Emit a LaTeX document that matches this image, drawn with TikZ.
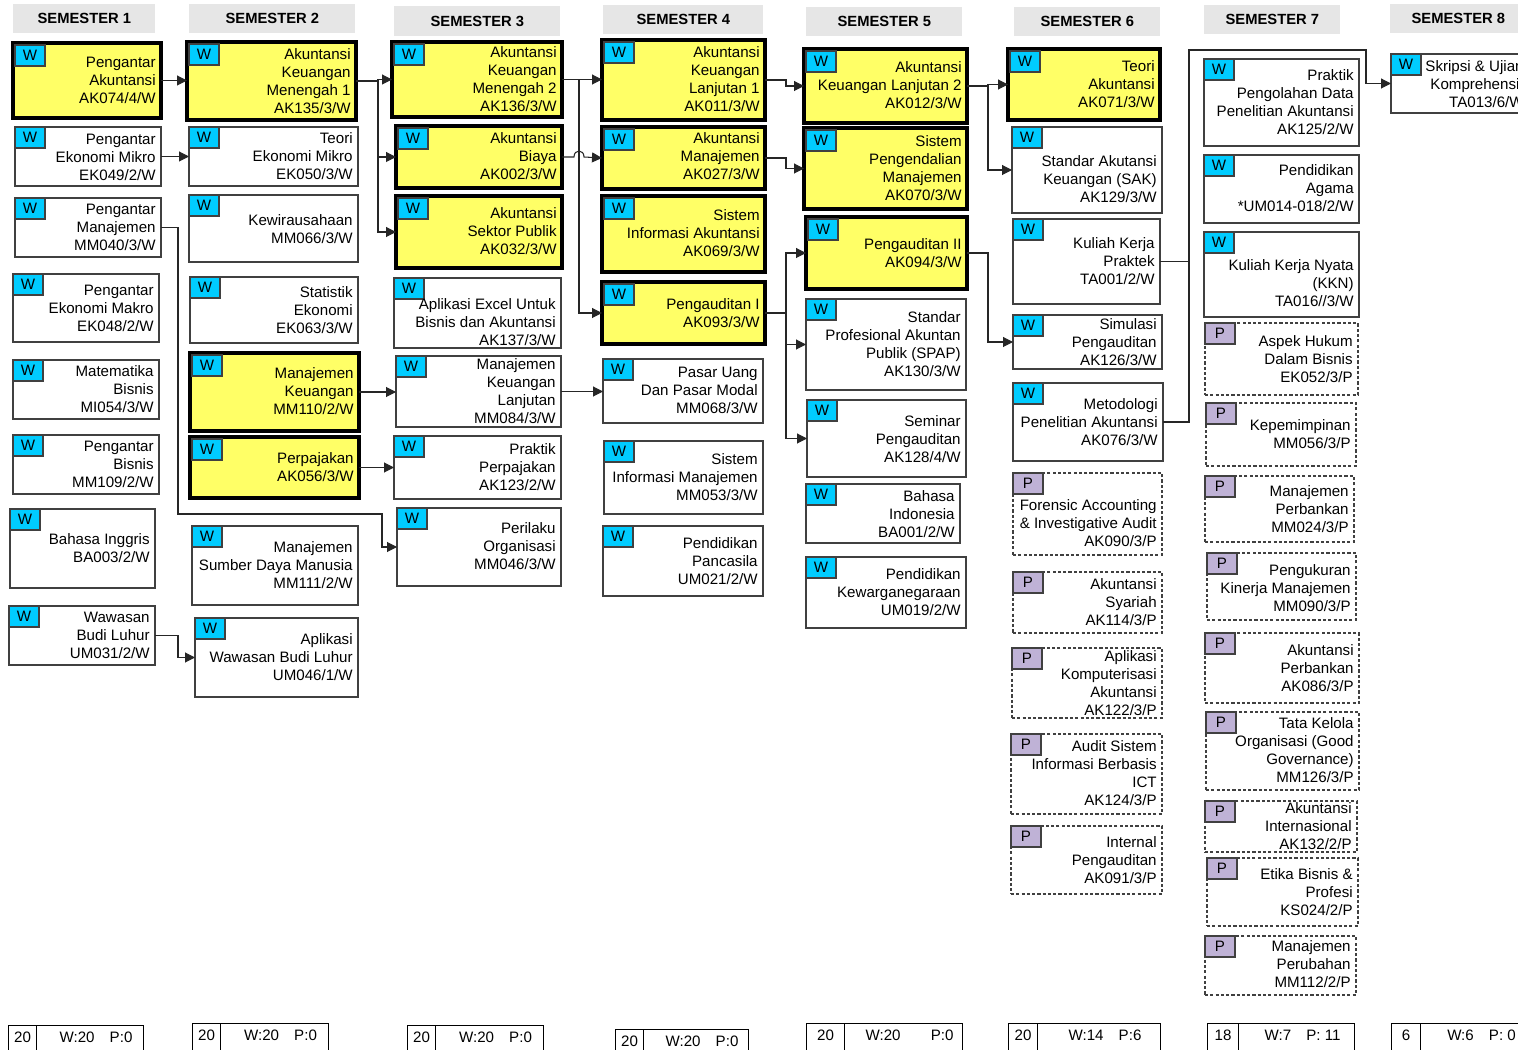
\documentclass[tikz,border=0pt]{standalone}
\usepackage{fontspec}
\setmainfont{Liberation Sans}
\usepackage{tikz}
\usetikzlibrary{arrows.meta}
\definecolor{kuning}{RGB}{255,255,102}
\definecolor{biru}{RGB}{0,204,255}
\definecolor{ungu}{RGB}{191,178,214}
\definecolor{abu}{RGB}{230,230,230}
\definecolor{garis}{RGB}{64,64,64}

\tikzset{
  kotak/.style={rectangle, draw=garis, line width=0.6pt, inner sep=0pt, outer sep=0pt, anchor=north west},
  wajib/.style={kotak},
  inti/.style={kotak, draw=black, line width=2.3pt, fill=kuning},
  pilih/.style={kotak, dash pattern=on 1.8pt off 1.2pt},
  tagW/.style={rectangle, draw=garis, line width=0.6pt, fill=biru, inner sep=0pt, outer sep=0pt, anchor=north west,
    minimum width=0.6cm, minimum height=0.42cm, font=\fontsize{8.6}{10}\selectfont, node contents=W},
  tagI/.style={tagW, xshift=0.04cm, yshift=-0.04cm},
  tagP/.style={tagW, fill=ungu, node contents=P},
  teks/.style={anchor=north east, align=right, inner sep=0pt, font=\fontsize{8.6}{10.2}\selectfont},
  judul/.style={rectangle, fill=abu, inner sep=0pt, anchor=north west, font=\bfseries\fontsize{8.4}{10}\selectfont},
  panah/.style={-{Triangle[length=0.2cm,width=0.2cm]}, draw=black!85, line width=0.6pt},
  sel/.style={rectangle, draw=black, line width=0.6pt, inner sep=0pt, anchor=north west, minimum height=0.8cm},
  angka/.style={inner sep=0pt, font=\fontsize{8.6}{10}\selectfont},
}

% name, box style, tag style, x1, y1, x2, y2, first text line, text
\newcommand{\matkul}[9]{%
  \node[#2, minimum width={(#6-#4)*0.02cm}, minimum height={(#7-#5)*0.02cm}] (#1) at (#4,#5) {};
  \node (#1t) at (#1.north west) [#3];
  \node[teks] (#1x) at (#6-5,#8-5.5) {#9};
}

\begin{document}
\begin{tikzpicture}[x=0.02cm, y=-0.02cm]
    \useasboundingbox (0,0) rectangle (1518,1050);

    % Semester headers
    \foreach \n/\xa/\ya/\xb/\yb in {1/13/4/155/33, 2/189/4/355/33, 3/394/6/560/36, 4/603/5/763/34,
        5/806/7/962/36, 6/1014/7/1160/36, 7/1204/5/1340/34, 8/1390/4/1526/33}
        \node[judul, minimum width={(\xb-\xa)*0.02cm}, minimum height={(\yb-\ya)*0.02cm}] (smt\n) at (\xa,\ya) {SEMESTER \n};

    % Semester 1
    \matkul{ak074}{inti}{tagI}{13}{43}{161}{118}{62}{Pengantar\\Akuntansi\\AK074/4/W}
    \matkul{ek049}{wajib}{tagW}{15}{127}{161}{186}{139}{Pengantar\\Ekonomi Mikro\\EK049/2/W}
    \matkul{mm040}{wajib}{tagW}{15}{198}{161}{257}{209}{Pengantar\\Manajemen\\MM040/3/W}
    \matkul{ek048}{wajib}{tagW}{13}{274}{159}{342}{290}{Pengantar\\Ekonomi Makro\\EK048/2/W}
    \matkul{mi054}{wajib}{tagW}{13}{360}{159}{419}{371}{Matematika\\Bisnis\\MI054/3/W}
    \matkul{mm109}{wajib}{tagW}{13}{435}{159}{494}{446}{Pengantar\\Bisnis\\MM109/2/W}
    \matkul{ba003}{wajib}{tagW}{10}{509}{155}{588}{539}{Bahasa Inggris\\BA003/2/W}
    \matkul{um031}{wajib}{tagW}{9}{606}{155}{665}{617}{Wawasan\\Budi Luhur\\UM031/2/W}

    % Semester 2
    \matkul{ak135}{inti}{tagI}{187}{42}{356}{120}{54}{Akuntansi\\Keuangan\\Menengah 1\\AK135/3/W}
    \matkul{ek050}{wajib}{tagW}{189}{127}{358}{186}{138}{Teori\\Ekonomi Mikro\\EK050/3/W}
    \matkul{mm066}{wajib}{tagW}{189}{195}{358}{262}{220}{Kewirausahaan\\MM066/3/W}
    \matkul{ek063}{wajib}{tagW}{190}{277}{358}{343}{292}{Statistik\\Ekonomi\\EK063/3/W}
    \matkul{mm110}{inti}{tagI}{190}{353}{359}{431}{373}{Manajemen\\Keuangan\\MM110/2/W}
    \matkul{ak056}{inti}{tagI}{190}{437}{359}{498}{458}{Perpajakan\\AK056/3/W}
    \matkul{mm111}{wajib}{tagW}{192}{526}{358}{605}{547}{Manajemen\\Sumber Daya Manusia\\MM111/2/W}
    \matkul{um046}{wajib}{tagW}{195}{618}{358}{697}{639}{Aplikasi\\Wawasan Budi Luhur\\UM046/1/W}

    % Semester 3
    \matkul{ak136}{inti}{tagI}{392}{42}{562}{117}{52}{Akuntansi\\Keuangan\\Menengah 2\\AK136/3/W}
    \matkul{ak002}{inti}{tagI}{396}{126}{562}{188}{138}{Akuntansi\\Biaya\\AK002/3/W}
    \matkul{ak032}{inti}{tagI}{396}{196}{562}{268}{213}{Akuntansi\\Sektor Publik\\AK032/3/W}
    \matkul{ak137}{wajib}{tagW}{394}{278}{561}{348}{304}{Aplikasi Excel Untuk\\Bisnis dan Akuntansi\\AK137/3/W}
    \matkul{mm084}{wajib}{tagW}{396}{356}{561}{427}{364}{Manajemen\\Keuangan\\Lanjutan\\MM084/3/W}
    \matkul{ak123}{wajib}{tagW}{394}{436}{561}{499}{449}{Praktik\\Perpajakan\\AK123/2/W}
    \matkul{mm046}{wajib}{tagW}{397}{508}{561}{586}{528}{Perilaku\\Organisasi\\MM046/3/W}

    % Semester 4
    \matkul{ak011}{inti}{tagI}{602}{40}{765}{120}{52}{Akuntansi\\Keuangan\\Lanjutan 1\\AK011/3/W}
    \matkul{ak027}{inti}{tagI}{602}{127}{765}{189}{138}{Akuntansi\\Manajemen\\AK027/3/W}
    \matkul{ak069}{inti}{tagI}{602}{196}{765}{272}{215}{Sistem\\Informasi Akuntansi\\AK069/3/W}
    \matkul{ak093}{inti}{tagI}{602}{282}{765}{344}{304}{Pengauditan I\\AK093/3/W}
    \matkul{mm068}{wajib}{tagW}{603}{359}{763}{423}{372}{Pasar Uang\\Dan Pasar Modal\\MM068/3/W}
    \matkul{mm053}{wajib}{tagW}{604}{441}{763}{514}{459}{Sistem\\Informasi Manajemen\\MM053/3/W}
    \matkul{um021}{wajib}{tagW}{603}{526}{763}{596}{543}{Pendidikan\\Pancasila\\UM021/2/W}

    % Semester 5
    \matkul{ak012}{inti}{tagI}{804}{49}{967}{123}{67}{Akuntansi\\Keuangan Lanjutan 2\\AK012/3/W}
    \matkul{ak070}{inti}{tagI}{804}{128}{967}{209}{141}{Sistem\\Pengendalian\\Manajemen\\AK070/3/W}
    \matkul{ak094}{inti}{tagI}{806}{217}{967}{289}{244}{Pengauditan II\\AK094/3/W}
    \matkul{ak130}{wajib}{tagW}{806}{299}{966}{390}{317}{Standar\\Profesional Akuntan\\Publik (SPAP)\\AK130/3/W}
    \matkul{ak128}{wajib}{tagW}{807}{400}{966}{477}{421}{Seminar\\Pengauditan\\AK128/4/W}
    \matkul{ba001}{wajib}{tagW}{806}{484}{960}{543}{496}{Bahasa\\Indonesia\\BA001/2/W}
    \matkul{um019}{wajib}{tagW}{806}{557}{966}{628}{574}{Pendidikan\\Kewarganegaraan\\UM019/2/W}

    % Semester 6
    \matkul{ak071}{inti}{tagI}{1008}{49}{1160}{120}{66}{Teori\\Akuntansi\\AK071/3/W}
    \matkul{ak129}{wajib}{tagW}{1012}{127}{1162}{213}{161}{Standar Akutansi\\Keuangan (SAK)\\AK129/3/W}
    \matkul{ta001}{wajib}{tagW}{1013}{219}{1160}{304}{243}{Kuliah Kerja\\Praktek\\TA001/2/W}
    \matkul{ak126}{wajib}{tagW}{1013}{315}{1162}{369}{324}{Simulasi\\Pengauditan\\AK126/3/W}
    \matkul{ak076}{wajib}{tagW}{1013}{383}{1163}{461}{404}{Metodologi\\Penelitian Akuntansi\\AK076/3/W}
    \matkul{ak090}{pilih}{tagP}{1013}{473}{1162}{555}{505}{Forensic Accounting\\\& Investigative Audit\\AK090/3/P}
    \matkul{ak114}{pilih}{tagP}{1013}{572}{1162}{633}{584}{Akuntansi\\Syariah\\AK114/3/P}
    \matkul{ak122}{pilih}{tagP}{1012}{648}{1162}{718}{656}{Aplikasi\\Komputerisasi\\Akuntansi\\AK122/3/P}
    \matkul{ak124}{pilih}{tagP}{1011}{734}{1162}{814}{746}{Audit Sistem\\Informasi Berbasis\\ICT\\AK124/3/P}
    \matkul{ak091}{pilih}{tagP}{1011}{826}{1162}{894}{842}{Internal\\Pengauditan\\AK091/3/P}

    % Semester 7
    \matkul{ak125}{wajib}{tagW}{1204}{59}{1359}{146}{75}{Praktik\\Pengolahan Data\\Penelitian Akuntansi\\AK125/2/W}
    \matkul{um014}{wajib}{tagW}{1204}{155}{1359}{223}{170}{Pendidikan\\Agama\\*UM014-018/2/W}
    \matkul{ta016}{wajib}{tagW}{1204}{232}{1359}{317}{265}{Kuliah Kerja Nyata\\(KKN)\\TA016//3/W}
    \matkul{ek052}{pilih}{tagP}{1205}{323}{1358}{395}{341}{Aspek Hukum\\Dalam Bisnis\\EK052/3/P}
    \matkul{mm056}{pilih}{tagP}{1206}{403}{1356}{466}{425}{Kepemimpinan\\MM056/3/P}
    \matkul{mm024}{pilih}{tagP}{1205}{476}{1354}{542}{491}{Manajemen\\Perbankan\\MM024/3/P}
    \matkul{mm090}{pilih}{tagP}{1207}{553}{1356}{620}{570}{Pengukuran\\Kinerja Manajemen\\MM090/3/P}
    \matkul{ak086}{pilih}{tagP}{1205}{633}{1359}{703}{650}{Akuntansi\\Perbankan\\AK086/3/P}
    \matkul{mm126}{pilih}{tagP}{1206}{712}{1359}{790}{723}{Tata Kelola\\Organisasi (Good\\Governance)\\MM126/3/P}
    \matkul{ak132}{pilih}{tagP}{1205}{801}{1357}{852}{808}{Akuntansi\\Internasional\\AK132/2/P}
    \matkul{ks024}{pilih}{tagP}{1207}{858}{1358}{926}{874}{Etika Bisnis \&\\Profesi\\KS024/2/P}
    \matkul{mm112}{pilih}{tagP}{1205}{936}{1356}{995}{946}{Manajemen\\Perubahan\\MM112/2/P}

    % Semester 8
    \matkul{ta013}{wajib}{tagW}{1391}{54}{1529}{113}{66}{Skripsi \& Ujian\\Komprehensif\\TA013/6/W}

    % Prerequisite lines
    \draw[panah] (ak074.east) -- (ak074.east -| ak135.west);
    \draw[panah] (ek049.east) -- (ek049.east -| ek050.west);
    \draw[panah] (mm040.east) -- ++(17,0) -- ++(0,286.5) -- ++(204,0) |- (mm046.west);
    \draw[panah] (um031.east) -- ++(23,0) |- (um046.west);
    \draw[panah] (ak135.east) -- ++(22,0) |- (ak136.west);
    \draw[panah] (ak135.east) -- ++(22,0) |- (ak002.west);
    \draw[panah] (ak135.east) -- ++(22,0) |- (ak032.west);
    \draw[panah] (mm110.east) -- (mm110.east -| mm084.west);
    \draw[panah] (ak056.east) -- (ak056.east -| ak123.west);
    \draw[panah] (ak136.east) -- (ak136.east -| ak011.west);
    \draw[panah] (ak136.east) -- ++(17,0) |- (ak093.west);
    \draw[panah] (ak002.east) -- ++(12,0) .. controls +(0,-8) and +(0,-8) .. ++(10,0) -- (ak027.west);
    \draw[panah] (mm084.east) -- (mm084.east -| mm068.west);
    \draw[panah] (ak011.east) -- ++(21,0) |- (ak012.west);
    \draw[panah] (ak027.east) -- ++(21,0) |- (ak070.west);
    \draw[panah] (ak093.east) -- ++(21,0) |- (ak094.west);
    \draw[panah] (ak093.east) -- ++(21,0) |- (ak130.west);
    \draw[panah] (ak093.east) -- ++(21,0) |- (ak128.west);
    \draw[panah] (ak012.east) -- ++(21,0) |- (ak071.west);
    \draw[panah] (ak012.east) -- ++(21,0) |- (ak129.west);
    \draw[panah] (ak094.east) -- ++(21,0) |- (ak126.west);
    \draw[panah] (ak076.east) -- ++(26,0) coordinate (simpul) -- ++(0,-372) -- ++(177,0) |- (ta013.west);
    \draw[panah, -] (ta001.east) -- (ta001.east -| simpul);

    % Credit totals
    \foreach \k/\xa/\xb/\xc/\yt/\n/\d in {1/8/36/143/1025/20/{W:20\quad P:0}, 2/192/220/328/1023/20/{W:20\quad P:0},
        3/407/435/543/1025/20/{W:20\quad P:0}, 4/615/643/748/1029/20/{W:20\quad P:0},
        5/806/844/962/1023/20/{W:20\qquad P:0}, 6/1008/1037/1160/1023/20/{W:14\quad P:6},
        7/1207/1238/1354/1023/18/{W:7\quad P: 11}, 8/1391/1420/1530/1023/6/{W:6\quad P: 0}}
    {
        \node[sel, minimum width={(\xb-\xa)*0.02cm}] (jml\k) at (\xa,\yt) {};
        \node[sel, minimum width={(\xc-\xb)*0.02cm}] (rinci\k) at (\xb,\yt) {};
        \node[angka, yshift=-0.25cm] (njml\k) at (jml\k.north) {\n};
        \node[angka, yshift=-0.25cm, xshift=0.12cm] (nrinci\k) at (rinci\k.north) {\d};
    }
\end{tikzpicture}
\end{document}
